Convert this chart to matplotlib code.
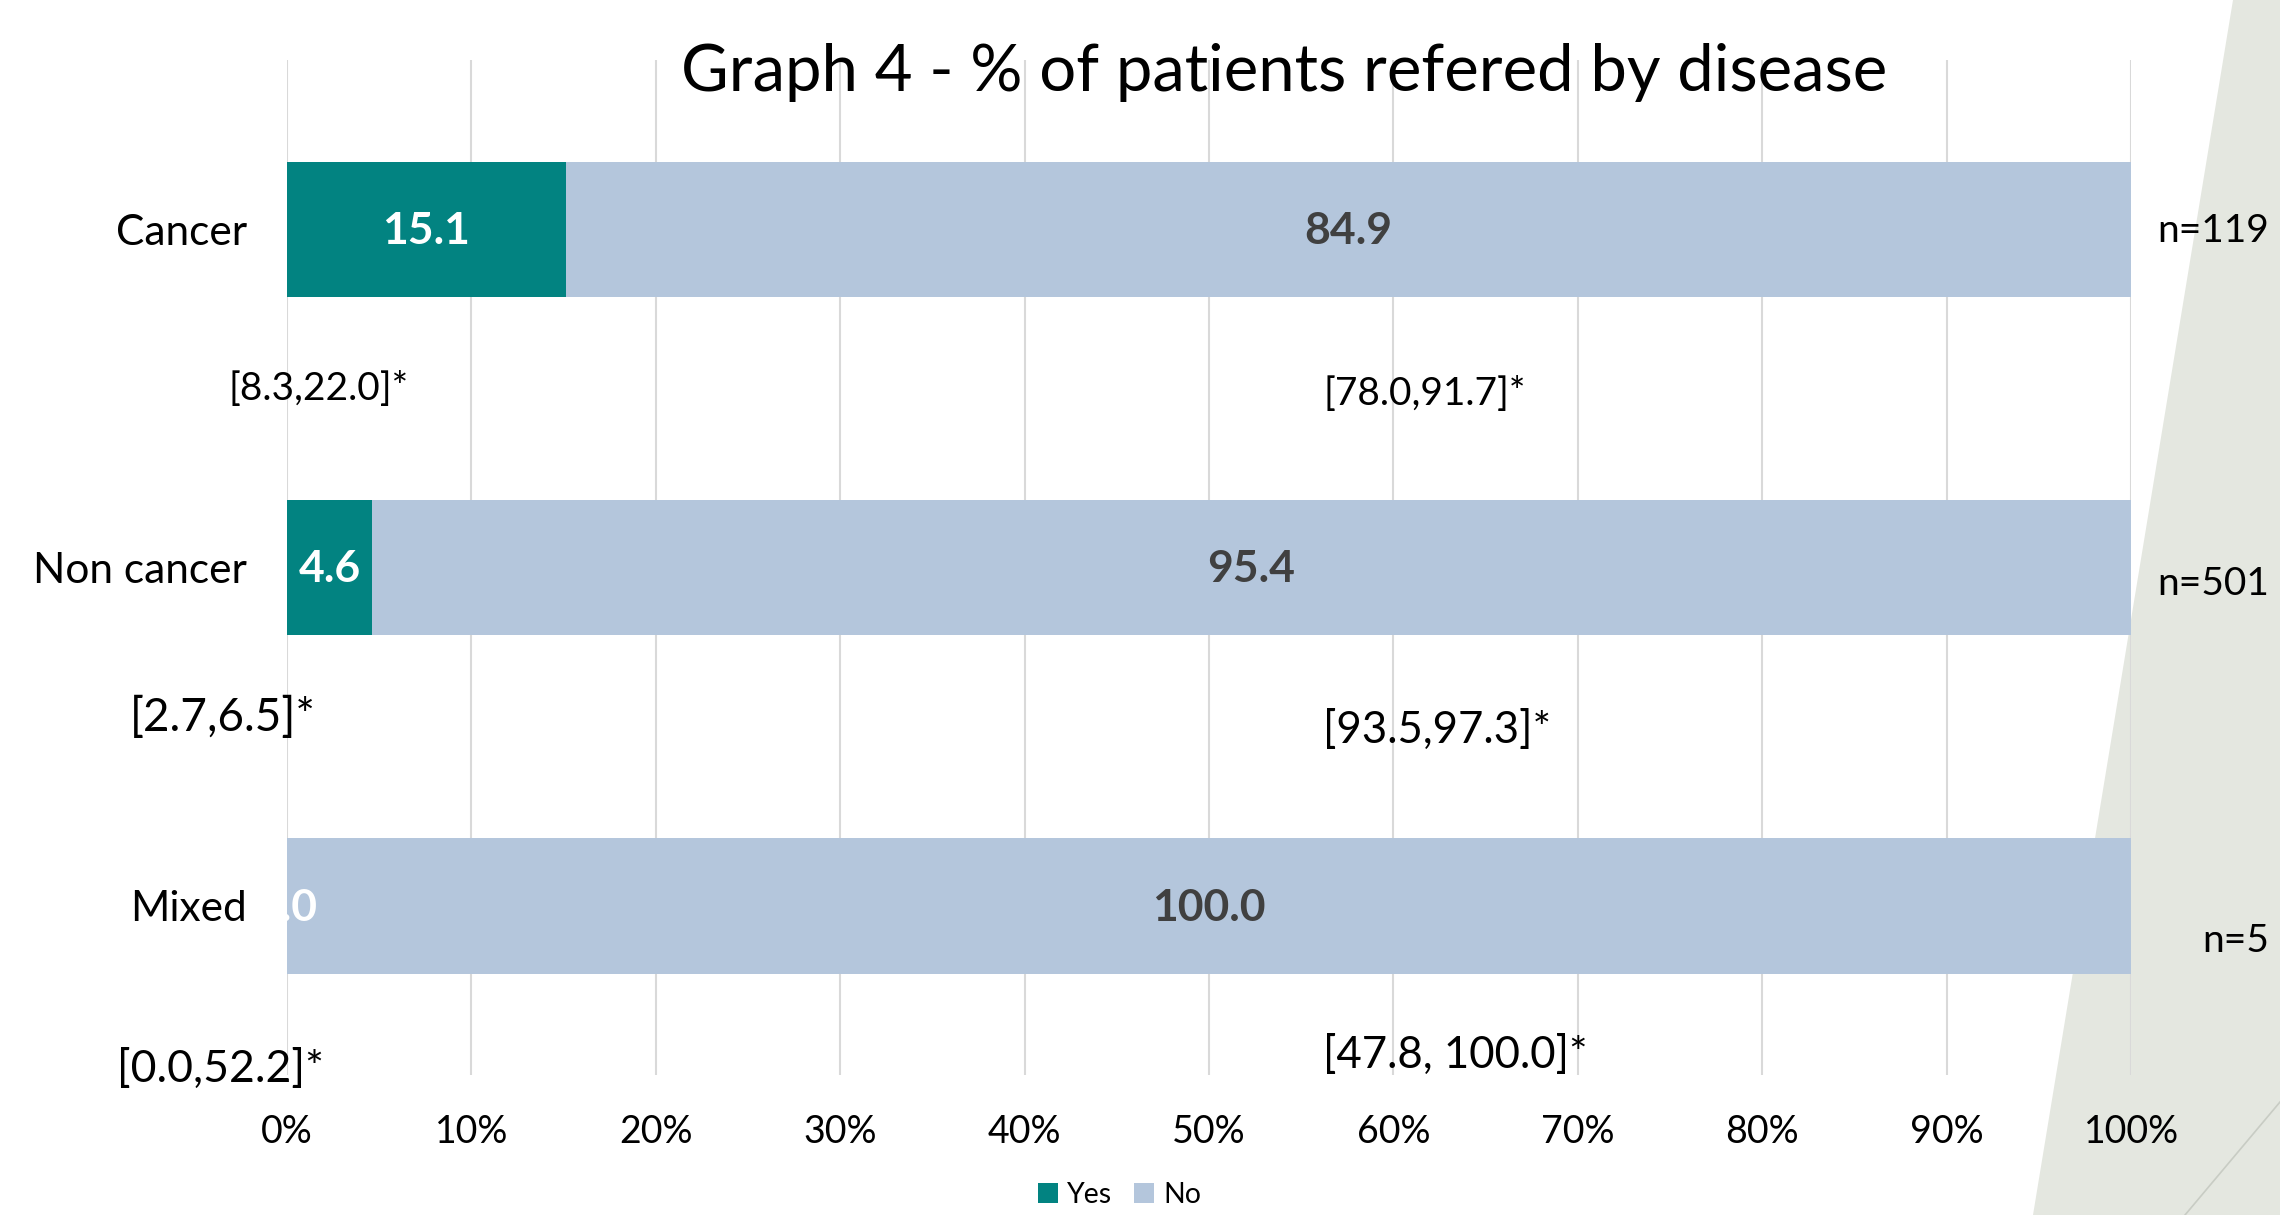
import matplotlib
matplotlib.use('Agg')
import matplotlib.pyplot as plt
from matplotlib.patches import Polygon, Patch
from matplotlib.lines import Line2D

plt.rcParams['font.family'] = ['Lato', 'DejaVu Sans']

# data
categories = ['Cancer', 'Non cancer', 'Mixed']
yes_pct = [15.1, 4.6, 0.0]
no_pct = [84.9, 95.4, 100.0]
yes_ci = ['[8.3,22.0]*', '[2.7,6.5]*', '[0.0,52.2]*']
no_ci = ['[78.0,91.7]*', '[93.5,97.3]*', '[47.8, 100.0]*']
n_labels = ['n=119', 'n=501', 'n=5']
x_ticks = list(range(0, 101, 10))

teal = '#028381'
light_blue = '#b4c6dc'

fig = plt.figure(figsize=(22.8, 12.15), dpi=100)

# background decoration on the right side
fig.patches.append(Polygon(
    [(2233 / 2280, 1.0), (2033 / 2280, 0.0), (1.0, 0.0), (1.0, 1.0)],
    closed=True, transform=fig.transFigure, facecolor='#e4e7e0',
    edgecolor='none', zorder=-2
))
fig.lines.append(Line2D(
    [2185 / 2280, 1.0], [0.0, 1 - 1102 / 1215],
    transform=fig.transFigure, color='#c8ccc4', lw=1.2, zorder=-1
))

ax = fig.add_axes([0.1259, 0.1152, 0.8088, 0.8354])
ax.set_facecolor('none')
ax.set_zorder(1)

y = list(range(len(categories)))
ax.barh(y, yes_pct, height=0.40, color=teal, zorder=3)
ax.barh(y, no_pct, left=yes_pct, height=0.40, color=light_blue, zorder=3)

ax.set_xlim(0, 100)
ax.set_ylim(2.5, -0.5)
ax.set_xticks(x_ticks)
ax.set_xticklabels([f'{t}%' for t in x_ticks], fontsize=27)
ax.set_yticks(y)
ax.set_yticklabels(categories, fontsize=30.5)
ax.tick_params(axis='both', length=0)
ax.tick_params(axis='x', pad=28)
ax.tick_params(axis='y', pad=29)
for side in ['top', 'right', 'bottom', 'left']:
    ax.spines[side].set_visible(False)
ax.xaxis.grid(True, color='#d9d9d9', lw=1.5, zorder=0)
ax.set_axisbelow(True)

# value labels inside the bars
for i in y:
    ax.text(yes_pct[i] / 2, i + 0.005, f'{yes_pct[i]:.1f}', ha='center', va='center',
            color='white', fontsize=32, fontweight='bold', zorder=5)
    ax.text(yes_pct[i] + no_pct[i] / 2, i + 0.005, f'{no_pct[i]:.1f}', ha='center',
            va='center', color='#404040', fontsize=32, fontweight='bold', zorder=5)

# confidence interval labels
yes_ci_x = [1.7, -3.5, -3.6]
yes_ci_y = [0.472, 1.442, 2.482]
yes_ci_size = [28, 33, 32]
no_ci_y = [0.487, 1.482, 2.442]
no_ci_size = [28, 31.5, 31.5]
for i in y:
    ax.text(yes_ci_x[i], yes_ci_y[i], yes_ci[i], ha='center', va='center',
            fontsize=yes_ci_size[i], color='black', clip_on=False)
    ax.text(56.2, no_ci_y[i], no_ci[i], ha='left', va='center',
            fontsize=no_ci_size[i], color='black', clip_on=False)

# sample sizes on the right
n_y = [0.005, 1.05, 2.105]
for i in y:
    ax.text(107.5, n_y[i], n_labels[i], ha='right', va='center',
            fontsize=28, color='black', clip_on=False)

fig.text(1284 / 2280, 1 - 73 / 1215, 'Graph 4 - % of patients refered by disease',
         ha='center', va='center', fontsize=47, color='black')

handles = [Patch(facecolor=teal, label='Yes'), Patch(facecolor=light_blue, label='No')]
fig.legend(handles=handles, loc='center', bbox_to_anchor=(0.491, 0.0165),
           ncol=2, frameon=False, fontsize=20.5, handlelength=0.7,
           handleheight=0.7, columnspacing=0.8, handletextpad=0.3)

fig.savefig('out.png', dpi=100)
